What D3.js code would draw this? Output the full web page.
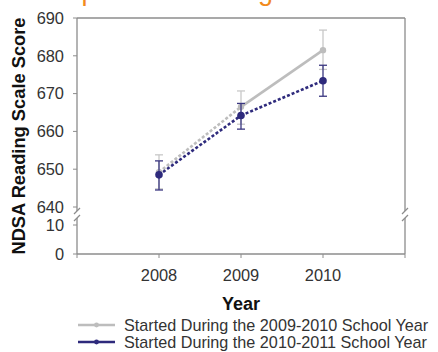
<!DOCTYPE html>
<html>
<head>
<meta charset="utf-8">
<script src="https://cdn.jsdelivr.net/npm/d3@7"></script>
<style>
  html, body { margin: 0; padding: 0; background: #fff; }
  svg { display: block; }
  text { font-family: Arial, "Liberation Sans", sans-serif; }
</style>
</head>
<body>
<svg id="chart" width="438" height="352"></svg>
<script>
// ---- data ----
const years = [2008, 2009, 2010];
const seriesNames = [
  "Started During the 2009-2010 School Year",
  "Started During the 2010-2011 School Year"
];
const scores2009 = [649.2, 666.5, 681.5];
const low2009    = [644.8, 661.9, 676.4];
const high2009   = [653.8, 670.7, 686.8];
const scores2010 = [648.5, 664.2, 673.4];
const low2010    = [644.5, 660.6, 669.3];
const high2010   = [652.2, 667.4, 677.5];
const upperTicks = [640, 650, 660, 670, 680, 690];
const lowerTicks = [0, 10];
const yAxisTitle = "NDSA Reading Scale Score";
const xAxisTitle = "Year";
const chartTitle = "Compared Reading Scores";

// ---- layout ----
const svg = d3.select("#chart");
const pLeft = 77, pRight = 405, pTop = 18, pBottom = 254;
const axisColor = "#8c8c8c";
const textColor = "#333";
const grayColor = "#bdbdbd";
const darkColor = "#2e2a7c";
const fs = 16.4;

const x = d3.scaleLinear().domain([2007, 2011]).range([pLeft, pRight]);
const yUp = d3.scaleLinear().domain([640, 690]).range([207, pTop]);
const yLow = d3.scaleLinear().domain([0, 10]).range([pBottom, 225]);

// title (cut off at top, as in the reference)
svg.append("text").attr("x", 21).attr("y", 0)
  .attr("font-size", 27).attr("letter-spacing", 1.2).attr("fill", "#f28a1c").text(chartTitle);

// frame: top and bottom
const g = svg.append("g");
g.append("line").attr("x1", pLeft).attr("x2", pRight).attr("y1", pTop).attr("y2", pTop)
  .attr("stroke", axisColor).attr("stroke-width", 1.3);
g.append("line").attr("x1", pLeft).attr("x2", pRight).attr("y1", pBottom).attr("y2", pBottom)
  .attr("stroke", axisColor).attr("stroke-width", 1.3);

// vertical axes with break
const breakTop = 211, breakBot = 218;
[pLeft, pRight].forEach(xx => {
  g.append("line").attr("x1", xx).attr("x2", xx).attr("y1", pTop).attr("y2", breakTop)
    .attr("stroke", axisColor).attr("stroke-width", 1.3);
  g.append("line").attr("x1", xx).attr("x2", xx).attr("y1", breakBot).attr("y2", pBottom)
    .attr("stroke", axisColor).attr("stroke-width", 1.3);
  [breakTop, breakBot].forEach(yy => {
    g.append("line").attr("x1", xx - 3).attr("x2", xx + 3).attr("y1", yy + 3).attr("y2", yy - 3)
      .attr("stroke", axisColor).attr("stroke-width", 1.2);
  });
});

// y ticks
upperTicks.forEach(t => {
  g.append("line").attr("x1", pLeft - 4).attr("x2", pLeft).attr("y1", yUp(t)).attr("y2", yUp(t))
    .attr("stroke", axisColor);
  g.append("text").attr("x", 64).attr("y", yUp(t)).attr("dy", "0.35em")
    .attr("text-anchor", "end").attr("font-size", fs).attr("fill", textColor).text(t);
});
lowerTicks.forEach(t => {
  g.append("line").attr("x1", pLeft - 4).attr("x2", pLeft).attr("y1", yLow(t)).attr("y2", yLow(t))
    .attr("stroke", axisColor);
  g.append("text").attr("x", 64).attr("y", yLow(t)).attr("dy", "0.35em")
    .attr("text-anchor", "end").attr("font-size", fs).attr("fill", textColor).text(t);
});

// x ticks
[2007, ...years, 2011].forEach(yr => {
  g.append("line").attr("x1", x(yr)).attr("x2", x(yr)).attr("y1", pBottom).attr("y2", pBottom + 4)
    .attr("stroke", axisColor);
});
years.forEach(yr => {
  g.append("text").attr("x", x(yr)).attr("y", 281).attr("text-anchor", "middle")
    .attr("font-size", fs).attr("fill", textColor).text(yr);
});

// axis titles
svg.append("text").attr("transform", "translate(25,136) rotate(-90)")
  .attr("text-anchor", "middle").attr("font-size", 18.3).attr("font-weight", "bold")
  .attr("fill", "#111").text(yAxisTitle);
svg.append("text").attr("x", 241).attr("y", 310).attr("text-anchor", "middle")
  .attr("font-size", 18).attr("font-weight", "bold").attr("fill", "#111").text(xAxisTitle);

// series
const series = [
  { vals: scores2009, lo: low2009, hi: high2009, color: grayColor, dashFirstOnly: true, r: 3.2, barColor: "#c8c8c8" },
  { vals: scores2010, lo: low2010, hi: high2010, color: darkColor, dashFirstOnly: false, r: 3.8, barColor: "#3a3680" }
];
series.forEach(s => {
  const sg = svg.append("g");
  years.forEach((yr, i) => {
    const cx = x(yr);
    sg.append("line").attr("x1", cx).attr("x2", cx).attr("y1", yUp(s.lo[i])).attr("y2", yUp(s.hi[i]))
      .attr("stroke", s.barColor).attr("stroke-width", 1.3);
    [s.lo[i], s.hi[i]].forEach(v => {
      sg.append("line").attr("x1", cx - 4).attr("x2", cx + 4).attr("y1", yUp(v)).attr("y2", yUp(v))
        .attr("stroke", s.barColor).attr("stroke-width", 1.3);
    });
  });
  for (let i = 0; i < years.length - 1; i++) {
    const dashed = s.dashFirstOnly ? i === 0 : true;
    sg.append("line")
      .attr("x1", x(years[i])).attr("y1", yUp(s.vals[i]))
      .attr("x2", x(years[i + 1])).attr("y2", yUp(s.vals[i + 1]))
      .attr("stroke", s.color).attr("stroke-width", 2.6)
      .attr("stroke-dasharray", dashed ? "3,2" : null);
  }
  years.forEach((yr, i) => {
    sg.append("circle").attr("cx", x(yr)).attr("cy", yUp(s.vals[i])).attr("r", s.r)
      .attr("fill", s.color);
  });
});

// legend
const legendY = [325, 342];
seriesNames.forEach((name, i) => {
  const s = series[i];
  const lg = svg.append("g");
  lg.append("line").attr("x1", 78).attr("x2", 115).attr("y1", legendY[i]).attr("y2", legendY[i])
    .attr("stroke", s.color).attr("stroke-width", 2.6);
  lg.append("circle").attr("cx", 96.5).attr("cy", legendY[i]).attr("r", 2.4).attr("fill", s.color);
  lg.append("text").attr("x", 124).attr("y", legendY[i]).attr("dy", "0.35em")
    .attr("font-size", 16.2).attr("fill", textColor).text(name);
});
</script>
</body>
</html>
